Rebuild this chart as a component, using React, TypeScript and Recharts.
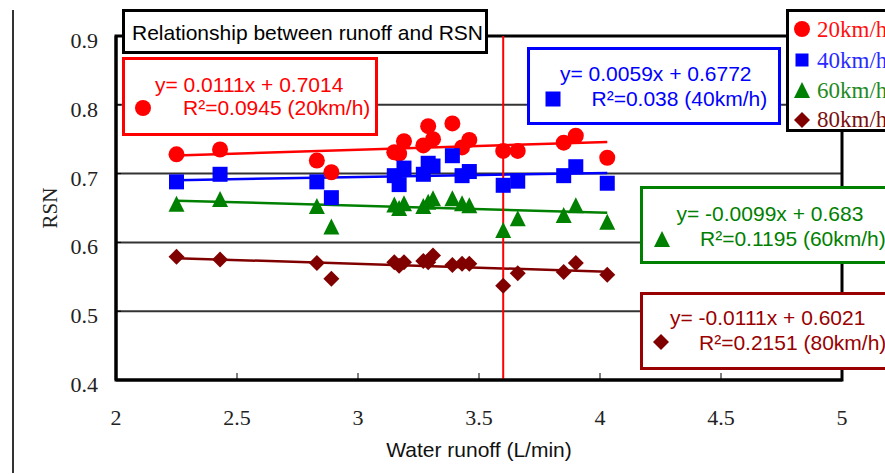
import React from 'react';
import {
  ComposedChart, Scatter, Line, XAxis, YAxis, CartesianGrid, ReferenceLine, ReferenceArea,
} from 'recharts';

// ---- data ----
const xValues = [2.25, 2.43, 2.83, 2.89, 3.15, 3.17, 3.19, 3.27, 3.29, 3.31, 3.39, 3.43, 3.46, 3.6, 3.66, 3.85, 3.9, 4.03];
const rsn20 = [0.728, 0.735, 0.719, 0.702, 0.731, 0.729, 0.747, 0.741, 0.769, 0.75, 0.773, 0.738, 0.749, 0.733, 0.733, 0.745, 0.755, 0.723];
const rsn40 = [0.688, 0.699, 0.688, 0.665, 0.697, 0.684, 0.708, 0.699, 0.715, 0.711, 0.726, 0.697, 0.703, 0.683, 0.689, 0.697, 0.71, 0.686];
const rsn60 = [0.656, 0.663, 0.653, 0.623, 0.655, 0.65, 0.657, 0.653, 0.659, 0.664, 0.664, 0.657, 0.654, 0.618, 0.635, 0.64, 0.654, 0.63];
const rsn80 = [0.579, 0.575, 0.57, 0.547, 0.571, 0.566, 0.571, 0.573, 0.571, 0.581, 0.567, 0.569, 0.569, 0.537, 0.555, 0.557, 0.57, 0.553];

const trendX = [2.25, 4.03];
const trend20 = [0.7264, 0.7461];
const trend40 = [0.6905, 0.701];
const trend60 = [0.6607, 0.6431];
const trend80 = [0.5771, 0.5574];

const xTicks = [2, 2.5, 3, 3.5, 4, 4.5, 5];
const yTicks = [0.4, 0.5, 0.6, 0.7, 0.8, 0.9];
const thresholdX = 3.6;

const seriesNames = ['20km/h', '40km/h', '60km/h', '80km/h'];
const equations = ['y= 0.0111x + 0.7014', 'y= 0.0059x + 0.6772', 'y= -0.0099x + 0.683', 'y= -0.0111x + 0.6021'];
const r2Labels = ['R\u00B2=0.0945 (20km/h)', 'R\u00B2=0.038 (40km/h)', 'R\u00B2=0.1195 (60km/h)', 'R\u00B2=0.2151 (80km/h)'];
const titleText = 'Relationship between runoff and RSN';
const xLabel = 'Water runoff (L/min)';
const yLabel = 'RSN';

const colors = ['#ff0000', '#0000ff', '#008000', '#800000'];
const textColors = ['#ff0000', '#0000ff', '#008000', '#990000'];
const legendTextColors = ['#ff1010', '#2a2aff', '#1f8a1f', '#7a1010'];
const boxColors = ['#ff0000', '#0000ff', '#008000', '#990000'];
const kinds = ['circle', 'square', 'triangle', 'diamond'];

const toPoints = (xs: number[], ys: number[]) => xs.map((x, i) => ({ x, y: ys[i] }));
const scatterSets = [rsn20, rsn40, rsn60, rsn80].map((ys) => toPoints(xValues, ys));
const trendSets = [trend20, trend40, trend60, trend80].map((ys) => toPoints(trendX, ys));

const serif = "'Liberation Serif', 'Times New Roman', serif";
const sans = "'Liberation Sans', Arial, sans-serif";

function markerSvg(kind: string, color: string, cx: number, cy: number, s = 8) {
  if (kind === 'circle') return <circle cx={cx} cy={cy} r={s} fill={color} />;
  if (kind === 'square') return <rect x={cx - s + 0.5} y={cy - s + 0.5} width={2 * s - 1} height={2 * s - 1} fill={color} />;
  if (kind === 'triangle')
    return <polygon points={`${cx},${cy - s} ${cx - s},${cy + s} ${cx + s},${cy + s}`} fill={color} />;
  return <polygon points={`${cx},${cy - s} ${cx + s},${cy} ${cx},${cy + s} ${cx - s},${cy}`} fill={color} />;
}

const makeShape = (kind: string, color: string) => (props: any) => {
  const { cx, cy } = props;
  if (cx == null || cy == null) return <g />;
  return <g>{markerSvg(kind, color, cx, cy, 8)}</g>;
};

const YTick = (props: any) => {
  const { x, y, payload } = props;
  return (
    <text x={x} y={y + 12} textAnchor="end" style={{ fontFamily: serif, fontSize: 22, fill: '#222' }}>
      {payload.value.toFixed(1)}
    </text>
  );
};

const XTick = (props: any) => {
  const { x, y, payload } = props;
  return (
    <text x={x} y={y + 16} textAnchor="middle" style={{ fontFamily: serif, fontSize: 22, fill: '#222' }}>
      {String(payload.value)}
    </text>
  );
};

const box = (left: number, top: number, width: number, height: number, color: string): React.CSSProperties => ({
  position: 'absolute', left, top, width, height, border: `3px solid ${color}`, background: '#fff', boxSizing: 'border-box',
});

const txt = (left: number, top: number, color: string): React.CSSProperties => ({
  position: 'absolute', left, top, color, fontFamily: sans, fontSize: 21, lineHeight: '20px', whiteSpace: 'nowrap',
});

function Icon({ kind, color, cx, cy, s }: { kind: string; color: string; cx: number; cy: number; s: number }) {
  return (
    <svg style={{ position: 'absolute', left: cx - s - 1, top: cy - s - 1 }} width={2 * s + 2} height={2 * s + 2}>
      {markerSvg(kind, color, s + 1, s + 1, s)}
    </svg>
  );
}

// annotation layout
const eqBoxes = [
  { box: [122, 57, 256, 79], l1: [155, 75], l2: [183, 97.5], icon: [143, 108] },
  { box: [527, 47, 254, 78], l1: [560, 64], l2: [591.5, 89], icon: [552.5, 99] },
  { box: [640, 186, 300, 78], l1: [676.5, 204], l2: [700, 229], icon: [661.5, 239] },
  { box: [639.5, 291.5, 300, 78], l1: [670, 308], l2: [699, 332.5], icon: [660.5, 342] },
];
const legendRows = [30.5, 61, 91, 120.5];
const legendIconRows = [29, 59.5, 90, 120];

export default function App() {
  return (
    <div style={{ position: 'absolute', left: 0, top: 0, width: 885, height: 474, overflow: 'hidden', background: '#fff' }}>
      <div style={{ position: 'absolute', left: 12, top: 10, width: 1.5, height: 463, background: '#333' }} />
      <div style={{ position: 'absolute', left: 0, top: 0 }}>
        <ComposedChart width={885} height={474} margin={{ top: 36, right: 43, bottom: 0, left: 56 }}>
          <CartesianGrid vertical={false} stroke="#333" strokeWidth={2} />
          <XAxis
            dataKey="x"
            type="number"
            domain={[2, 5]}
            ticks={xTicks}
            height={94}
            tickSize={-7}
            tickMargin={36}
            axisLine={{ stroke: '#000', strokeWidth: 3 }}
            tickLine={{ stroke: '#000', strokeWidth: 1 }}
            tick={<XTick />}
            label={{ value: xLabel, position: 'insideBottom', offset: 17, fill: '#111', fontSize: 21, fontFamily: sans }}
          />
          <YAxis
            type="number"
            domain={[0.4, 0.9]}
            ticks={yTicks}
            width={60}
            tickSize={-5}
            tickMargin={23}
            axisLine={{ stroke: '#000', strokeWidth: 3 }}
            tickLine={{ stroke: '#000', strokeWidth: 1 }}
            tick={<YTick />}
            label={{
              value: yLabel, angle: -90, position: 'insideLeft', offset: -6, fill: '#222', fontSize: 21,
              fontFamily: serif, style: { textAnchor: 'middle' },
            }}
          />
          <ReferenceArea x1={2} x2={5} y1={0.4} y2={0.9} fill="none" fillOpacity={0} stroke="#000" strokeWidth={3} />
          {trendSets.map((d, i) => (
            <Line
              key={`t${i}`}
              data={d}
              dataKey="y"
              stroke={colors[i]}
              strokeWidth={2.5}
              dot={false}
              activeDot={false}
              isAnimationActive={false}
              legendType="none"
            />
          ))}
          {scatterSets.map((d, i) => (
            <Scatter
              key={`s${i}`}
              name={seriesNames[i]}
              data={d}
              dataKey="y"
              fill={colors[i]}
              shape={makeShape(kinds[i], colors[i])}
              isAnimationActive={false}
            />
          ))}
          <ReferenceLine x={thresholdX} stroke="#ff0000" strokeWidth={2} />
        </ComposedChart>
      </div>

      {/* title box */}
      <div style={box(122, 8.5, 366, 45, '#000')} />
      <div style={txt(132, 22.5, '#000')}>{titleText}</div>

      {/* regression boxes */}
      {eqBoxes.map((b, i) => (
        <React.Fragment key={`eq${i}`}>
          <div style={box(b.box[0], b.box[1], b.box[2], b.box[3], boxColors[i])} />
          <div style={txt(b.l1[0], b.l1[1], textColors[i])}>{equations[i]}</div>
          <div style={txt(b.l2[0], b.l2[1], textColors[i])}>{r2Labels[i]}</div>
          <Icon kind={kinds[i]} color={colors[i]} cx={b.icon[0]} cy={b.icon[1]} s={8} />
        </React.Fragment>
      ))}

      {/* legend */}
      <div style={box(786, 8.5, 140, 123.5, '#000')} />
      {seriesNames.map((n, i) => (
        <React.Fragment key={`lg${i}`}>
          <Icon kind={kinds[i]} color={colors[i]} cx={802} cy={legendIconRows[i]} s={kinds[i] === 'square' ? 7 : 8} />
          <div
            style={{
              position: 'absolute', left: 817, top: legendRows[i] - 11.5, color: legendTextColors[i],
              fontFamily: serif, fontSize: 23, lineHeight: '22px', whiteSpace: 'nowrap',
            }}
          >
            {n}
          </div>
        </React.Fragment>
      ))}
    </div>
  );
}
